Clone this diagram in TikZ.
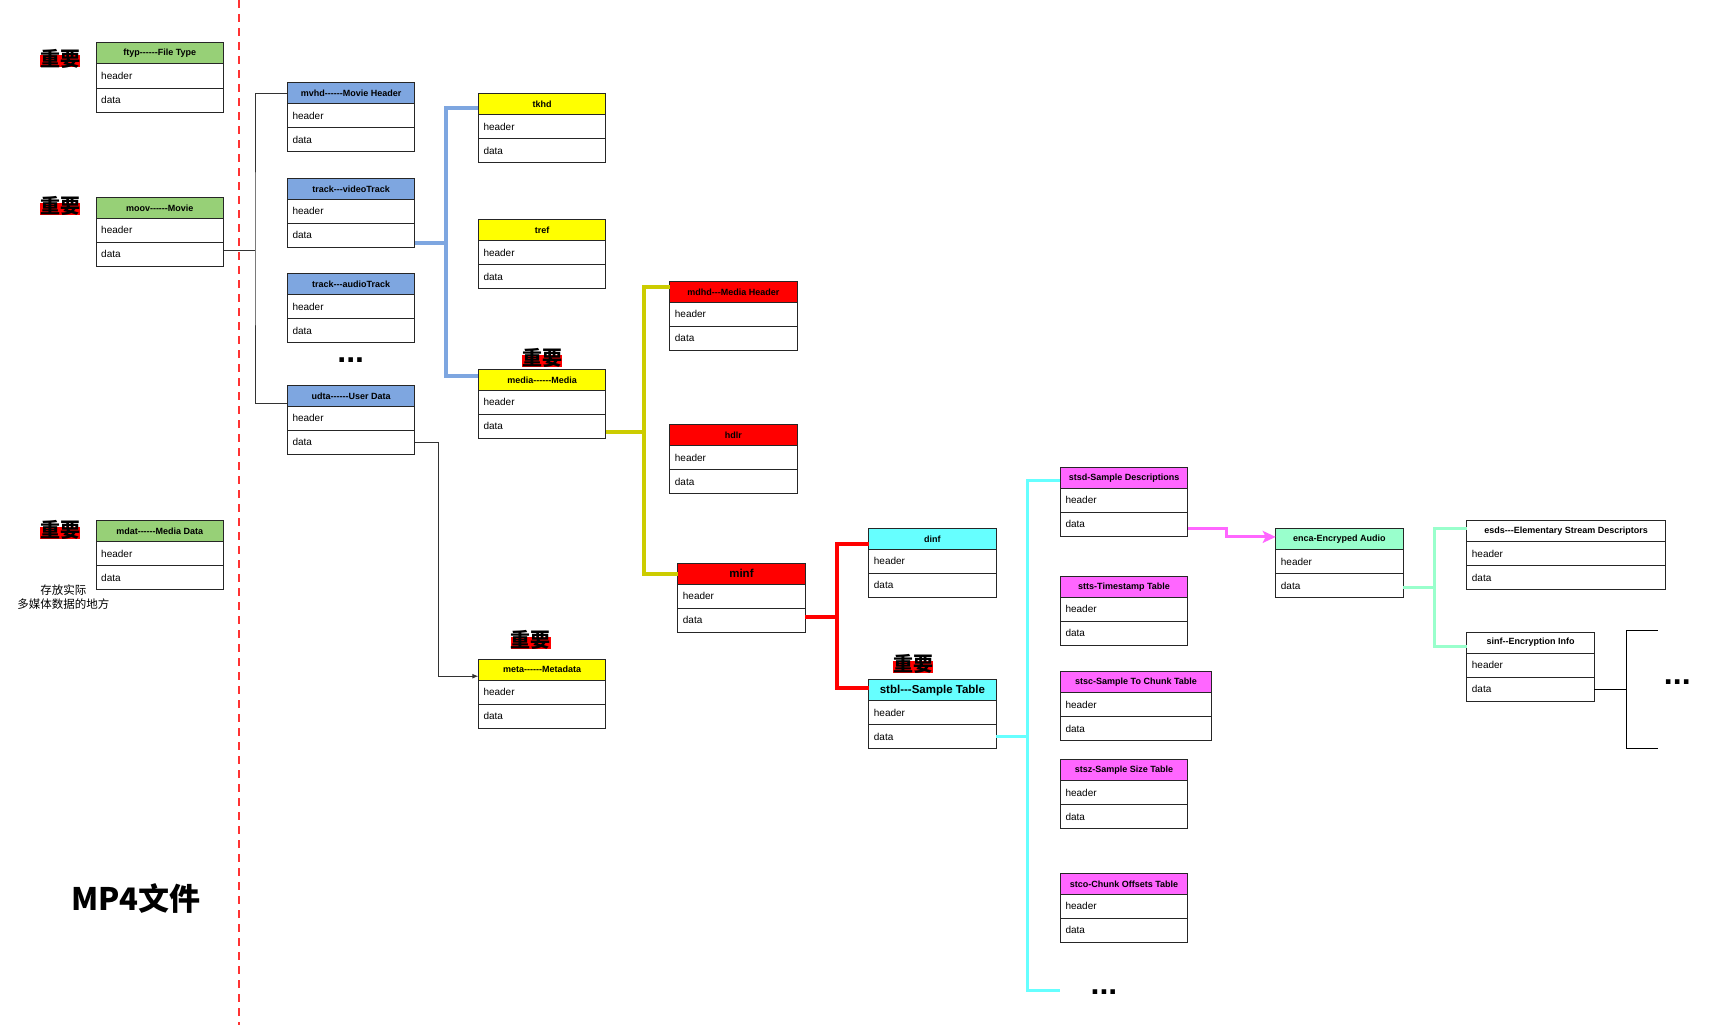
\documentclass[tikz,border=0pt]{standalone}
\usepackage{fontspec}
\setmainfont[Ligatures=TeXOff]{Liberation Sans}
\newfontfamily\cjk{Noto Sans CJK SC}
\usetikzlibrary{arrows.meta}
\definecolor{cgreen}{HTML}{97D077}
\definecolor{cblue}{HTML}{7EA6E0}
\definecolor{cyel}{HTML}{FFFF00}
\definecolor{cred}{HTML}{FF0000}
\definecolor{ccyan}{HTML}{66FFFF}
\definecolor{cmag}{HTML}{FF66FF}
\definecolor{cmint}{HTML}{99FFCC}
\definecolor{colive}{HTML}{CCCC00}
\definecolor{dashred}{HTML}{FF3333}
\tikzset{
  cell/.style={draw=black!85, line width=1pt, inner sep=0pt, outer sep=0pt, anchor=north west},
  titlecell/.style={cell, minimum height=21pt, font=\fontsize{9}{10}\selectfont\bfseries},
  bigtitle/.style={font=\fontsize{11.5}{12}\selectfont\bfseries},
  rowcell/.style={cell, minimum height=24pt},
  rowtext/.style={anchor=west, inner sep=0pt, xshift=5pt, font=\fontsize{10}{12}\selectfont},
  thinline/.style={draw=black!80, line width=1pt},
  blueline/.style={draw=cblue, line width=4pt},
  oliveline/.style={draw=colive, line width=4pt},
  redline/.style={draw=cred, line width=4pt},
  cyanline/.style={draw=ccyan, line width=3pt},
  pinkline/.style={draw=cmag, line width=3pt},
  mintline/.style={draw=cmint, line width=3pt},
  dots/.style={inner sep=0pt, font=\fontsize{32}{32}\selectfont\bfseries},
  imptext/.style={inner sep=0pt, font=\cjk\bfseries\fontsize{20}{21}\selectfont},
}
\newcommand\mpbox[7]{%
  \node[titlecell, fill=#5, minimum width=#4pt, #7] (#1-t) at (#2,#3) {#6};
  \node[rowcell, minimum width=#4pt] (#1-h) at (#1-t.south west) {};
  \node[rowcell, minimum width=#4pt] (#1-d) at (#1-h.south west) {};
  \node[rowtext] (#1-hl) at (#1-h.west) {header};
  \node[rowtext] (#1-dl) at (#1-d.west) {data};
}
\newcommand\impmark[3]{%
  \fill[cred] (#2-20,#3-3) rectangle (#2+20,#3+9);
  \node[imptext] (#1) at (#2,#3) {重要};
}
\begin{document}
\begin{tikzpicture}[x=1pt,y=-1pt]
\fill[white] (0,0) rectangle (1711,1025);
\useasboundingbox (0,0) rectangle (1711,1025);

% red dashed divider
\coordinate (divtop) at (239,0);
\coordinate (divbot) at (239,1025);
\draw[dashred, line width=2pt, dash pattern=on 8pt off 6pt] (divtop) -- (divbot);

% left column
\mpbox{ftyp}{96}{43}{127.5}{cgreen}{ftyp------File Type}{}
\mpbox{moov}{96}{197.3}{127.5}{cgreen}{moov------Movie}{}
\mpbox{mdat}{96}{520.7}{127.5}{cgreen}{mdat------Media Data}{}
\impmark{imp1}{60}{58.5}
\impmark{imp2}{60}{206}
\impmark{imp3}{60}{530}
\node[inner sep=0pt, align=center, font=\cjk\fontsize{11.5}{14.3}\selectfont] (note) at (63.3,597) {存放实际\\多媒体数据的地方};
\node[inner sep=0pt, font=\cjk\bfseries\fontsize{31}{34}\selectfont] (title) at (135.8,898.3) {MP4文件};

% moov children
\mpbox{mvhd}{287.3}{82.7}{127.5}{cblue}{mvhd------Movie Header}{}
\mpbox{tv}{287.3}{178.3}{127.5}{cblue}{track---videoTrack}{}
\mpbox{ta}{287.3}{273.7}{127.5}{cblue}{track---audioTrack}{}
\node[dots] (dots1) at (350.7,360) {...};
\mpbox{udta}{287.3}{385.3}{127.5}{cblue}{udta------User Data}{}

% track children
\mpbox{tkhd}{478.3}{93.7}{127.5}{cyel}{tkhd}{}
\mpbox{tref}{478.3}{219.7}{127.5}{cyel}{tref}{}
\mpbox{media}{478.3}{369.3}{127.5}{cyel}{media------Media}{}
\impmark{imp4}{542.3}{358}
\mpbox{meta}{478.3}{659}{127.5}{cyel}{meta------Metadata}{}
\impmark{imp5}{530.7}{640}

% media children
\mpbox{mdhd}{669.7}{281.3}{127.5}{cred}{mdhd---Media Header}{}
\mpbox{hdlr}{669.7}{424.7}{127.5}{cred}{hdlr}{}
\mpbox{minf}{677.7}{563.3}{127.5}{cred}{minf}{bigtitle}

% minf children
\mpbox{dinf}{868.7}{528.3}{127.5}{ccyan}{dinf}{}
\mpbox{stbl}{868.7}{679.7}{127.5}{ccyan}{stbl---Sample Table}{bigtitle}
\impmark{imp6}{913.3}{664}

% stbl children
\mpbox{stsd}{1060.3}{467.3}{127.5}{cmag}{stsd-Sample Descriptions}{}
\mpbox{stts}{1060.3}{576.3}{127.5}{cmag}{stts-Timestamp Table}{}
\mpbox{stsc}{1060.3}{671.7}{151.4}{cmag}{stsc-Sample To Chunk Table}{}
\mpbox{stsz}{1060.3}{759.7}{127.5}{cmag}{stsz-Sample Size Table}{}
\mpbox{stco}{1060.3}{873.3}{127.5}{cmag}{stco-Chunk Offsets Table}{}
\node[dots] (dots2) at (1104,992) {...};

% stsd children
\mpbox{enca}{1275.7}{528.7}{127.5}{cmint}{enca-Encryped Audio}{}
\mpbox{esds}{1466.7}{520.7}{199}{white}{esds---Elementary Stream Descriptors}{}
\mpbox{sinf}{1466.7}{632}{127.6}{white}{sinf--Encryption Info}{}
\node[dots] (dots3) at (1677.3,682) {...};

% ---- connectors ----
\coordinate (k1) at (255,249);
\draw[thinline] ([yshift=4pt]moov-d.east) -- ([yshift=4pt]moov-d.east -| k1);
\draw[thinline] (mvhd-t.west) -| (k1) |- ([yshift=-8pt]udta-t.west);

\coordinate (k2) at (438.3,500);
\draw[thinline, -{Latex[length=6pt,width=5pt]}] (udta-d.east) -| (k2) |- ([yshift=-6.7pt]meta-t.west);

\coordinate (bj) at (445.7,242.5);
\draw[blueline] ([yshift=-8pt]tv-d.east) -- ([yshift=-8pt]tv-d.east -| bj);
\draw[blueline] ([yshift=-3.7pt]tkhd-t.west) -| (bj) |- ([yshift=3.7pt]media-t.west);

\coordinate (yj) at (644,431);
\draw[oliveline] ([yshift=-5.3pt]media-d.east) -- ([yshift=-5.3pt]media-d.east -| yj);
\draw[oliveline] ([yshift=4.5pt]mdhd-t.west) -| (yj) |- (minf-t.west);

\coordinate (rj) at (837,615.5);
\draw[redline] ([yshift=3.5pt]minf-d.east) -- ([yshift=3.5pt]minf-d.east -| rj);
\draw[redline] ([yshift=-5pt]dinf-t.west) -| (rj) |- ([yshift=2.3pt]stbl-t.west);

\coordinate (cj) at (1027.5,735);
\coordinate (cend) at (1060,990);
\draw[cyanline] (stbl-d.east) -- (stbl-d.east -| cj);
\draw[cyanline] ([yshift=-3pt]stsd-t.west) -| (cj) |- (cend);

\coordinate (pj) at (1226.7,530);
\draw[pinkline, -{Stealth[length=13pt,width=12pt,inset=3pt]}] ([yshift=-4pt]stsd-d.east) -- ([yshift=-4pt]stsd-d.east -| pj) |- ([yshift=2.3pt]enca-t.west);

\coordinate (gj) at (1434.3,587.3);
\draw[mintline] ([yshift=-2pt]enca-d.east) -- ([yshift=-2pt]enca-d.east -| gj);
\draw[mintline] ([yshift=2.5pt]esds-t.west) -| (gj) |- ([yshift=-3.7pt]sinf-t.west);

\coordinate (bxt) at (1626.3,630.3);
\coordinate (bxb) at (1626.3,748.3);
\coordinate (brt) at (1657.7,630.3);
\coordinate (brb) at (1657.7,748.3);
\draw[thinline, draw=black] (sinf-d.east) -- (sinf-d.east -| bxt);
\draw[thinline, draw=black] (brt) -- (bxt) -- (bxb) -- (brb);
\end{tikzpicture}
\end{document}
